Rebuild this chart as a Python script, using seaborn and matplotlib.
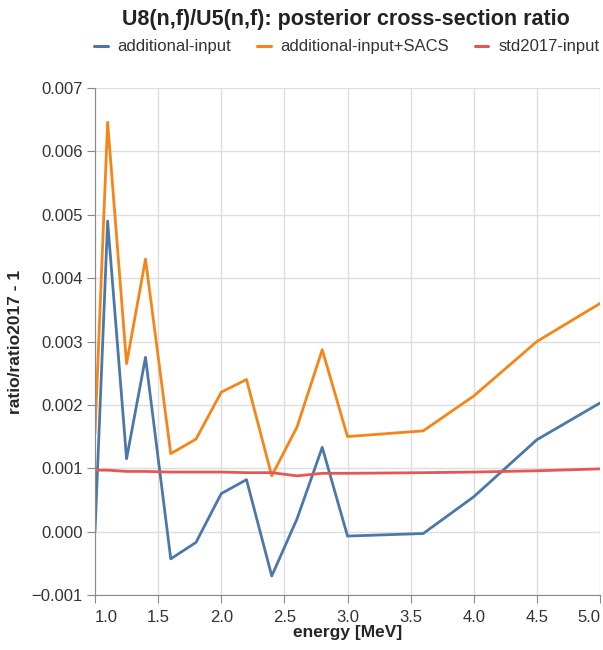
import matplotlib
matplotlib.use("Agg")
import matplotlib.pyplot as plt
import seaborn as sns
import pandas as pd
from matplotlib.lines import Line2D

# energy grid [MeV]
energy = [1.0, 1.1, 1.25, 1.4, 1.6, 1.8, 2.0, 2.2, 2.4, 2.6, 2.8, 3.0, 3.6, 4.0, 4.5, 5.0]

additional = [0.0000, 0.0049, 0.00115, 0.00275, -0.00043, -0.00017, 0.0006, 0.00082,
              -0.0007, 0.0002, 0.00133, -0.00007, -0.00003, 0.00055, 0.00145, 0.00203]
additional_sacs = [0.00155, 0.00646, 0.00265, 0.0043, 0.00123, 0.00146, 0.0022, 0.0024,
                   0.00088, 0.00165, 0.00287, 0.0015, 0.00159, 0.00214, 0.003, 0.0036]
std2017 = [0.00097, 0.00097, 0.00095, 0.00095, 0.00094, 0.00094, 0.00094, 0.00093,
           0.00093, 0.00088, 0.00092, 0.00092, 0.00093, 0.00094, 0.00096, 0.00099]

series = ["additional-input", "additional-input+SACS", "std2017-input"]
colors = ["#4c78a8", "#f58518", "#e45756"]

df = pd.concat([
    pd.DataFrame({"energy": energy, "value": vals, "input": name})
    for name, vals in zip(series, [additional, additional_sacs, std2017])
])

sns.set_style("white")
plt.rcParams["font.family"] = ["Liberation Sans", "DejaVu Sans"]

fig = plt.figure(figsize=(6.03, 6.5), dpi=100)
ax = fig.add_axes([95 / 603, 1 - 595 / 650, 505 / 603, 507 / 650])

sns.lineplot(data=df, x="energy", y="value", hue="input", palette=dict(zip(series, colors)),
             linewidth=2.0, ax=ax, legend=False, sort=False)

ax.set_xlim(1.0, 5.0)
ax.set_ylim(-0.001, 0.007)
ax.set_xticks([1.0, 1.5, 2.0, 2.5, 3.0, 3.5, 4.0, 4.5, 5.0])
ax.set_yticks([-0.001, 0.0, 0.001, 0.002, 0.003, 0.004, 0.005, 0.006, 0.007])
ax.set_xticklabels([f"{t:.1f}" for t in ax.get_xticks()])
ax.set_yticklabels([f"{t:.3f}".replace("-", "\u2212") for t in ax.get_yticks()])
xt = ax.get_xticklabels()
xt[0].set_ha("left")
xt[-1].set_ha("right")

ax.grid(True, color="#dddddd", linewidth=1)
ax.set_axisbelow(True)
for s in ["top", "right"]:
    ax.spines[s].set_visible(False)
for s in ["left", "bottom"]:
    ax.spines[s].set_color("#888888")
ax.tick_params(axis="both", length=6, color="#888888", labelsize=12,
               labelcolor="#333333", left=True, bottom=True)
ax.tick_params(axis="x", pad=5)
ax.tick_params(axis="y", pad=3)

ax.set_xlabel("energy [MeV]", fontsize=12.5, fontweight="bold")
ax.set_ylabel("ratio/ratio2017 - 1", fontsize=12.5, fontweight="bold")
ax.xaxis.label.set_va("center")
ax.yaxis.label.set_va("center")
ax.xaxis.set_label_coords(0.5, (595 - 632) / 507)
ax.yaxis.set_label_coords((16 - 95) / 505, (595 - 342) / 507)

fig.text(346 / 603, 1 - 20 / 650, "U8(n,f)/U5(n,f): posterior cross-section ratio",
         ha="center", va="center", fontsize=15.5, fontweight="bold", color="#222222")

handles = [Line2D([0], [0], color=c, linewidth=2.2) for c in colors]
fig.legend(handles, series, loc="center", bbox_to_anchor=(347 / 603, 1 - 47 / 650), ncol=3,
           frameon=False, fontsize=12, handlelength=0.8, handletextpad=0.6,
           columnspacing=1.55, labelcolor="#333333")

fig.savefig("out.png", dpi=100)
